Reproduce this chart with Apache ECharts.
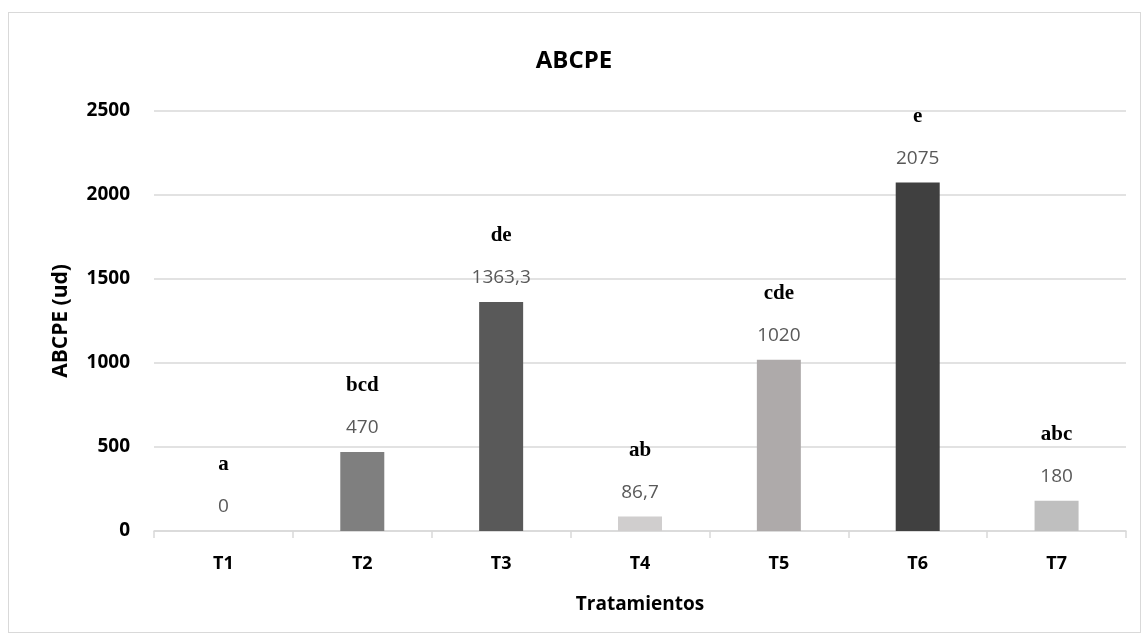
<!DOCTYPE html>
<html><head><meta charset="utf-8">
<script src="https://cdn.jsdelivr.net/npm/echarts@6/dist/echarts.min.js"></script>
<style>html,body{margin:0;padding:0;background:#fff}#c{width:1148px;height:640px}
#frame{position:absolute;left:8px;top:12px;width:1131px;height:619px;border:1px solid #d9d9d9;pointer-events:none}</style>
</head><body><div id="c"></div><div id="frame"></div>
<script>
const categories = ['T1','T2','T3','T4','T5','T6','T7'];
const values = [0, 470, 1363.3, 86.7, 1020, 2075, 180];
const letters = ['a','bcd','de','ab','cde','e','abc'];
const colors = ['#a5a5a5','#7f7f7f','#595959','#d0cece','#aeaaaa','#404040','#bfbfbf'];
const yTicks = [0, 500, 1000, 1500, 2000, 2500];

const chart = echarts.init(document.getElementById('c'));
const sans = "'Open Sans', 'Liberation Sans', sans-serif";
chart.setOption({
  animation: false,
  title: { text: 'ABCPE', left: 'center', top: 44, textStyle: { fontFamily: sans, fontWeight: 'bold', fontSize: 24, color: '#000' } },
  grid: { left: 154, right: 22, top: 111, bottom: 109 },
  xAxis: {
    type: 'category', data: categories,
    name: 'Tratamientos', nameLocation: 'middle', nameGap: 64,
    nameTextStyle: { fontFamily: sans, fontWeight: 'bold', fontSize: 19, color: '#000' },
    axisLine: { lineStyle: { color: '#d9d9d9', width: 1.5 } },
    axisTick: { show: true, length: 7, lineStyle: { color: '#d9d9d9', width: 1.5 } },
    axisLabel: { fontFamily: sans, fontWeight: 'bold', fontSize: 18, color: '#000', margin: 24 }
  },
  yAxis: {
    type: 'value', min: yTicks[0], max: yTicks[yTicks.length-1], interval: 500,
    name: 'ABCPE (ud)', nameLocation: 'middle', nameGap: 82, nameRotate: 90,
    nameTextStyle: { fontFamily: sans, fontWeight: 'bold', fontSize: 21, color: '#000' },
    axisLine: { show: false }, axisTick: { show: false },
    splitLine: { lineStyle: { color: '#d9d9d9', width: 1.5 } },
    axisLabel: { fontFamily: sans, fontWeight: 'bold', fontSize: 19, color: '#000', margin: 24, formatter: v => String(v) }
  },
  series: [{
    type: 'bar', barWidth: 44,
    data: values.map((v, i) => ({ value: v, itemStyle: { color: colors[i] } })),
    label: {
      show: true, position: 'top', distance: 12,
      formatter: p => '{l|' + letters[p.dataIndex] + '}\n{v|' + String(p.value).replace('.', ',') + '}',
      rich: {
        l: { fontFamily: "'Liberation Serif', 'DejaVu Serif', serif", fontWeight: 'bold', fontSize: 21, color: '#000', lineHeight: 60 },
        v: { fontFamily: sans, fontSize: 19, color: '#595959', lineHeight: 24 }
      }
    }
  }]
});
</script></body></html>
